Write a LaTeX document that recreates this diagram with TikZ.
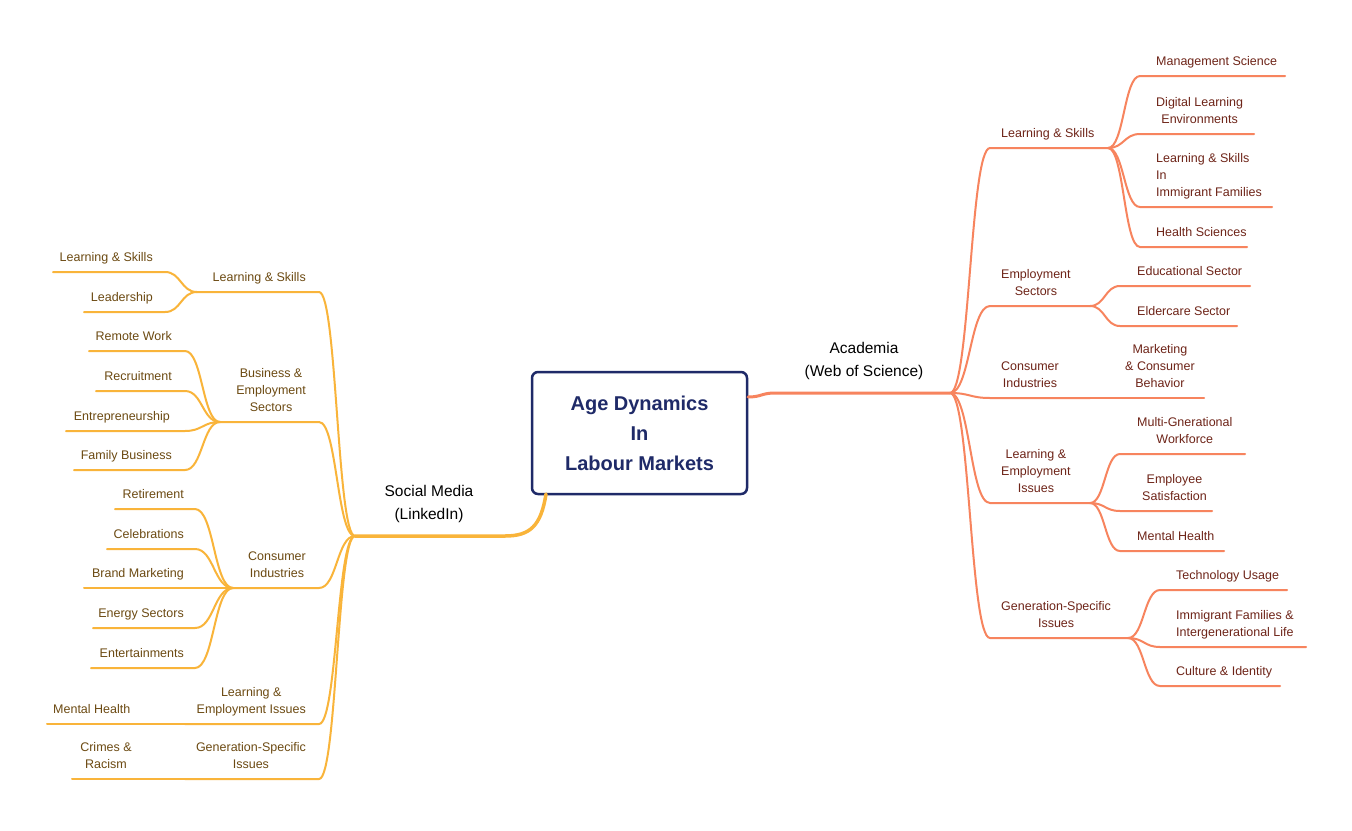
\documentclass[tikz,border=0pt]{standalone}
\usepackage{fontspec}
\setmainfont{Liberation Sans}
\usetikzlibrary{calc}
\definecolor{rootNavy}{RGB}{31,42,104}
\definecolor{acadLine}{RGB}{247,132,94}
\definecolor{socLine}{RGB}{249,180,58}
\definecolor{acadText}{RGB}{110,36,24}
\definecolor{socText}{RGB}{108,74,18}

\begin{document}
\begin{tikzpicture}[x=1pt,y=-1pt,
    branch/.style={to path={let \p1=(\tikztostart), \p2=(\tikztotarget) in
        .. controls ({(\x1+\x2)/2},\y1) and ({(\x1+\x2)/2},\y2) .. (\tikztotarget) \tikztonodes}},
    acadWire/.style={draw=acadLine, line width=2pt, line cap=round},
    socWire/.style={draw=socLine, line width=2pt, line cap=round},
    acadTxt/.style={text=acadText, inner sep=0pt, align=center, font=\fontsize{12.5}{17}\selectfont},
    socTxt/.style={text=socText, inner sep=0pt, align=center, font=\fontsize{12.5}{17}\selectfont},
    topic/.style={inner sep=0pt, align=center, font=\fontsize{15.5}{23}\selectfont},
    core/.style={draw=rootNavy, line width=2.5pt, rounded corners=6pt, minimum width=215pt,
        minimum height=122pt, text=rootNavy, align=center, font=\bfseries\fontsize{20}{30}\selectfont}]
  \useasboundingbox[fill=white] (0,0) rectangle (1352,830);

  \node[core] (core) at (639.5,433) {Age Dynamics\\In\\Labour Markets};

  % Academia side
  \coordinate (core-r) at (748,397);
  \coordinate (acad-a) at (775,393);
  \coordinate (acad-b) at (950,393);
  \node[topic, anchor=base] (acad) at (864,376.5) {Academia\\(Web of Science)};
  \draw[acadWire, line width=3pt] (core-r) to[branch] (acad-a) -- (acad-b);

  \foreach \name/\txt/\xe/\yl in {rls/{Learning \& Skills}/1108/148, res/{Employment\\Sectors}/1090/306,
      rci/{Consumer\\Industries}/1090/398, rle/{Learning \&\\Employment\\Issues}/1090/503,
      rgs/{Generation-Specific\\Issues}/1128/638} {
    \coordinate (\name-a) at (990,\yl);
    \coordinate (\name-b) at (\xe,\yl);
    \node[acadTxt, anchor=base west] (\name) at (1001,\yl-10.5) {\txt};
    \draw[acadWire] (acad-b) to[branch] (\name-a) -- (\name-b);
  }

  \foreach \name/\hub/\txt/\al/\xs/\tx/\yl/\xe in {
      rms/rls/{Management Science}/center/1140/1156/76/1285,
      rdl/rls/{Digital Learning\\Environments}/center/1140/1156/134/1254,
      rim/rls/{Learning \& Skills\\In\\Immigrant Families}/left/1140/1156/207/1272,
      rhs/rls/{Health Sciences}/center/1140/1156/247/1247,
      red/res/{Educational Sector}/center/1120/1137/286/1250,
      rel/res/{Eldercare Sector}/center/1120/1137/326/1237,
      rmg/rle/{Multi-Gnerational\\Workforce}/center/1120/1137/454/1245,
      rsat/rle/{Employee\\Satisfaction}/center/1120/1142/511/1212,
      rmh/rle/{Mental Health}/center/1120/1137/551/1224,
      rtu/rgs/{Technology Usage}/center/1160/1176/590/1287,
      rif/rgs/{Immigrant Families \&\\Intergenerational Life}/center/1160/1176/647/1306,
      rcu/rgs/{Culture \& Identity}/center/1160/1176/686/1280} {
    \coordinate (\name-a) at (\xs,\yl);
    \coordinate (\name-b) at (\xe,\yl);
    \node[acadTxt, anchor=base west, align=\al] (\name) at (\tx,\yl-10.5) {\txt};
    \draw[acadWire] (\hub-b) to[branch] (\name-a) -- (\name-b);
  }
  \coordinate (rmk-b) at (1204,398);
  \node[acadTxt, anchor=base west] (rmk) at (1125,387.5) {Marketing\\\& Consumer\\Behavior};
  \draw[acadWire] (rci-b) -- (rmk-b);

  % Social media side
  \coordinate (core-l) at (546,494);
  \coordinate (soc-a) at (505,536);
  \coordinate (soc-b) at (355,536);
  \node[topic, anchor=base] (soc) at (429,519.5) {Social Media\\(LinkedIn)};
  \draw[socWire, line width=3.5pt] (core-l) .. controls +(-5,32) and +(25,0) .. (soc-a) -- (soc-b);

  \foreach \name/\txt/\xe/\yl in {lls/{Learning \& Skills}/197/292,
      lbe/{Business \&\\Employment\\Sectors}/220/422, lci/{Consumer\\Industries}/233/588,
      lle/{Learning \&\\Employment Issues}/185/724, lgs/{Generation-Specific\\Issues}/185/779} {
    \coordinate (\name-a) at (319,\yl);
    \coordinate (\name-b) at (\xe,\yl);
    \node[socTxt, anchor=base east] (\name) at (306,\yl-10.5) {\txt};
    \draw[socWire] (soc-b) to[branch] (\name-a) -- (\name-b);
  }

  \foreach \name/\hub/\txt/\xs/\tx/\yl/\xe in {
      lls1/lls/{Learning \& Skills}/165/153/272/53,
      lld/lls/{Leadership}/165/153/312/84,
      lrw/lbe/{Remote Work}/185/172/351/89,
      lrc/lbe/{Recruitment}/185/172/391/96,
      len/lbe/{Entrepreneurship}/185/170/431/66,
      lfb/lbe/{Family Business}/185/172/470/74,
      lre/lci/{Retirement}/195/184/509/115,
      lce/lci/{Celebrations}/195/184/549/107,
      les/lci/{Energy Sectors}/195/184/628/93,
      lent/lci/{Entertainments}/195/184/668/91} {
    \coordinate (\name-a) at (\xs,\yl);
    \coordinate (\name-b) at (\xe,\yl);
    \node[socTxt, anchor=base east] (\name) at (\tx,\yl-10.5) {\txt};
    \draw[socWire] (\hub-b) to[branch] (\name-a) -- (\name-b);
  }
  \coordinate (lbm-b) at (84,588);
  \node[socTxt, anchor=base east] (lbm) at (184,577.5) {Brand Marketing};
  \draw[socWire] (lci-b) -- (lbm-b);
  \coordinate (lmh-b) at (47,724);
  \node[socTxt, anchor=base west] (lmh) at (53,713.5) {Mental Health};
  \draw[socWire] (lle-b) -- (lmh-b);
  \coordinate (lcr-b) at (72,779);
  \node[socTxt, anchor=base] (lcr) at (106,768.5) {Crimes \&\\Racism};
  \draw[socWire] (lgs-b) -- (lcr-b);
\end{tikzpicture}
\end{document}
